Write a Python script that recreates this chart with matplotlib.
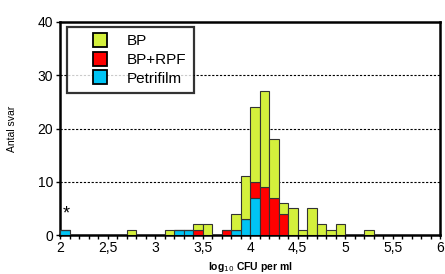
import numpy as np
import matplotlib.pyplot as plt
from matplotlib.lines import Line2D

plt.rcParams['font.family'] = ['Liberation Sans', 'DejaVu Sans']

# left edge of each 0.1 wide bin, and counts per method (stacked)
bin_left = [2.0, 2.7, 3.1, 3.2, 3.3, 3.4, 3.5, 3.7, 3.8, 3.9, 4.0, 4.1, 4.2,
            4.3, 4.4, 4.5, 4.6, 4.7, 4.8, 4.9, 5.2]
petrifilm = [1, 0, 0, 1, 1, 0, 0, 0, 1, 3, 7, 0, 0, 0, 0, 0, 0, 0, 0, 0, 0]
bp_rpf = [0, 0, 0, 0, 0, 1, 0, 1, 0, 0, 3, 9, 7, 4, 0, 0, 0, 0, 0, 0, 0]
bp = [0, 1, 1, 0, 0, 1, 2, 0, 3, 8, 14, 18, 11, 2, 5, 1, 5, 2, 1, 2, 1]

labels = ['BP', 'BP+RPF', 'Petrifilm']
colors = ['#d4f03c', '#ff0000', '#00c4f4']
xticks = [2, 2.5, 3, 3.5, 4, 4.5, 5, 5.5, 6]
xticklabels = ['2', '2,5', '3', '3,5', '4', '4,5', '5', '5,5', '6']
yticks = [0, 10, 20, 30, 40]

fig = plt.figure(figsize=(4.45, 2.74), dpi=100)
ax = fig.add_axes([0.135, 0.142, 0.854, 0.778])

x = np.array(bin_left)
p = np.array(petrifilm)
r = np.array(bp_rpf)
b = np.array(bp)
kw = dict(width=0.1, align='edge', edgecolor='#333333', linewidth=0.8, zorder=3)
ax.bar(x, p, color=colors[2], **kw)
ax.bar(x, r, bottom=p, color=colors[1], **kw)
ax.bar(x, b, bottom=p + r, color=colors[0], **kw)

for yv in [10, 20, 30]:
    ax.axhline(yv, color='black', linestyle=(0, (2, 1.5)), linewidth=0.8, zorder=1)

ax.text(2.07, 4.0, '*', fontsize=13, ha='center', va='center')

ax.set_xlim(2, 6)
ax.set_ylim(0, 40)
ax.set_xticks(xticks)
ax.set_xticklabels(xticklabels, fontsize=10)
ax.set_xticks(np.arange(2, 6.01, 0.1), minor=True)
ax.set_yticks(yticks)
ax.set_yticklabels([str(v) for v in yticks], fontsize=10)
ax.tick_params(axis='x', which='both', length=3, width=1, pad=1)
ax.tick_params(axis='y', length=3, width=1, pad=2)
for s in ax.spines.values():
    s.set_linewidth(1.8)

ax.set_ylabel('Antal svar', fontsize=7.5, labelpad=15)
ax.set_xlabel('log$_{10}$ CFU per ml', fontsize=7.5, fontweight='bold', labelpad=3.5)

handles = [Line2D([], [], linestyle='none', marker='s', markersize=10.5,
                  markerfacecolor=c, markeredgecolor='black', markeredgewidth=1.3)
           for c in colors]
leg = ax.legend(handles, labels, loc='upper left', bbox_to_anchor=(0.018, 0.977),
                fontsize=11, frameon=True, fancybox=False, edgecolor='black',
                handlelength=3.3, handletextpad=0.1, numpoints=1,
                labelspacing=0.3, borderpad=0.5, borderaxespad=0)
leg.get_frame().set_linewidth(1.6)
leg.set_zorder(5)

fig.savefig('out.png', dpi=100)
